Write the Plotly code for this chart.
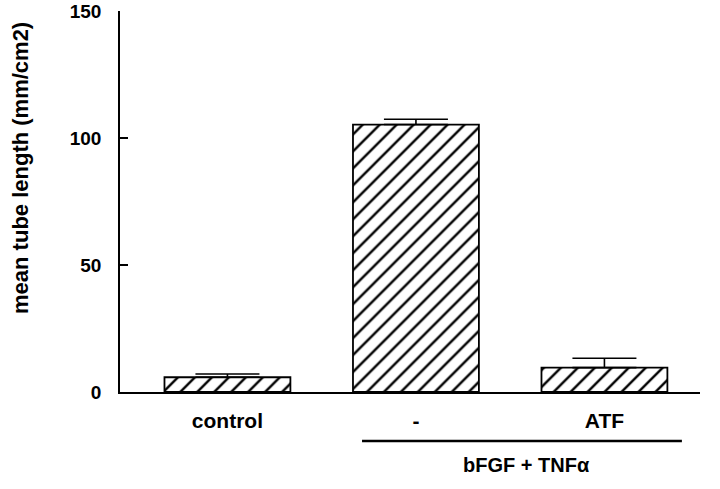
import plotly.graph_objects as go

categories = ["control", "-", "ATF"]
means = [5.8, 105.3, 9.6]
errors = [1.3, 2.1, 3.7]
y_ticks = [0, 50, 100, 150]
group_label = "bFGF + TNFα"
y_title = "mean tube length (mm/cm2)"

xpos = list(range(len(categories)))
FONT = "Liberation Sans, Arial, sans-serif"

fig = go.Figure()
fig.add_trace(go.Bar(
    x=xpos, y=means, width=0.668,
    marker=dict(color="white",
                line=dict(color="black", width=1.8),
                pattern=dict(shape="/", size=12, solidity=0.2, fgopacity=1,
                             fgcolor="#000000", bgcolor="white",
                             fillmode="overlay")),
    error_y=dict(type="data", array=errors, arrayminus=[0]*3, symmetric=False,
                 color="black", thickness=1.6, width=32),
    showlegend=False, hoverinfo="skip",
))

fig.update_layout(
    width=720, height=489,
    margin=dict(l=120, r=20, t=11, b=97),
    paper_bgcolor="white", plot_bgcolor="white",
    font=dict(family=FONT, color="black", size=18),
    xaxis=dict(range=[-0.570, 2.507], tickvals=xpos, ticktext=categories,
               showline=True, linecolor="black", linewidth=1.6,
               ticks="", showgrid=False, zeroline=False, automargin=False,
               tickfont=dict(family=FONT, size=21, weight="bold"),
               ticklabelstandoff=9),
    yaxis=dict(range=[0, 150], tickvals=y_ticks,
               showline=True, linecolor="black", linewidth=1.6,
               ticks="inside", ticklen=8, tickwidth=1.5, tickcolor="black",
               showgrid=False, zeroline=False, automargin=False,
               ticklabeloverflow="allow",
               tickfont=dict(family=FONT, size=19, weight="bold"),
               ticklabelstandoff=13),
)

fig.add_annotation(text=y_title, xref="paper", yref="paper",
                   x=-0.1707, y=0.588, xanchor="center", yanchor="middle",
                   textangle=-90, showarrow=False,
                   font=dict(family=FONT, size=22, weight="bold"))
fig.add_shape(type="line", xref="x", yref="paper",
              x0=0.714, x1=2.411, y0=-0.1286, y1=-0.1286,
              line=dict(color="black", width=2.5))
fig.add_annotation(text=group_label, xref="x", yref="paper",
                   x=1.589, y=-0.1916, xanchor="center", yanchor="middle",
                   showarrow=False,
                   font=dict(family=FONT, size=20, weight="bold"))

fig.write_html("out.html", config={"displayModeBar": False},
               post_script="document.body.style.margin='0';")
